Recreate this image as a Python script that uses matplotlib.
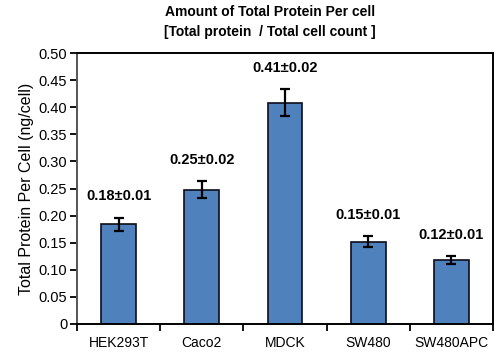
import matplotlib
matplotlib.use("Agg")
import matplotlib.pyplot as plt
import numpy as np
from matplotlib.ticker import FuncFormatter

plt.rcParams['font.family'] = ['Liberation Sans', 'DejaVu Sans']

cells = ["HEK293T", "Caco2", "MDCK", "SW480", "SW480APC"]
protein = [0.184, 0.248, 0.408, 0.152, 0.118]
errors = [0.012, 0.015, 0.025, 0.010, 0.007]
labels = ["0.18±0.01", "0.25±0.02", "0.41±0.02", "0.15±0.01", "0.12±0.01"]

fig = plt.figure(figsize=(5, 3.54), dpi=100)
ax = fig.add_axes([0.154, 0.085, 0.832, 0.765])

x = np.arange(len(cells))
ax.bar(x, protein, width=0.42, color="#4F81BD", edgecolor="#0d0d1a", linewidth=1.2,
       yerr=errors, capsize=3.5, error_kw=dict(ecolor="black", elinewidth=1.6, capthick=1.6))

for xi, v, e, lab in zip(x, protein, errors, labels):
    ax.text(xi, v + e + 0.04, lab, ha="center", va="center",
            fontsize=10.5, fontweight="bold")

ax.set_xlim(-0.5, len(cells) - 0.5)
ax.set_ylim(0, 0.5)
ax.set_yticks(np.arange(0, 0.51, 0.05))
ax.yaxis.set_major_formatter(FuncFormatter(lambda v, p: "0" if v == 0 else f"{v:.2f}"))
ax.tick_params(axis="y", direction="out", length=5, width=1.3, labelsize=10.5, pad=2)

# ticks between categories, labels at centres
ax.set_xticks(np.arange(-0.5, len(cells), 1.0))
ax.set_xticklabels([])
ax.set_xticks(x, minor=True)
ax.set_xticklabels(cells, minor=True)
ax.tick_params(axis="x", which="major", direction="out", length=5, width=1.3)
ax.tick_params(axis="x", which="minor", length=0, labelsize=10, pad=9)

ax.set_ylabel("Total Protein Per Cell (ng/cell)", fontsize=11.5, labelpad=3)

for side in ["top", "right", "bottom"]:
    ax.spines[side].set_linewidth(1.4)
    ax.spines[side].set_color("black")
ax.spines["left"].set_linewidth(1.4)
ax.spines["left"].set_color("#555555")

fig.text(0.54, 1 - 12 / 354, "Amount of Total Protein Per cell", ha="center", va="center",
         fontsize=10, fontweight="bold")
fig.text(0.54, 1 - 32 / 354, "[Total protein  / Total cell count ]", ha="center", va="center",
         fontsize=10, fontweight="bold")

fig.savefig("out.png", dpi=100)
